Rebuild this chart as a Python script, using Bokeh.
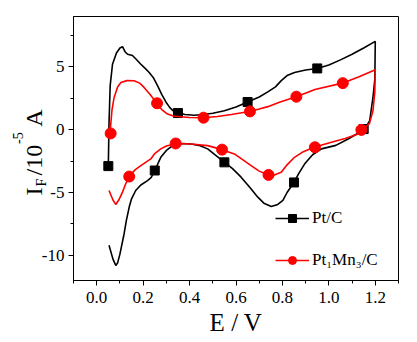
import math
from bokeh.plotting import figure
from bokeh.models import Label, Legend, LegendItem, FixedTicker, Range1d
from bokeh.embed import file_html
from bokeh.resources import INLINE

FONT = "Liberation Serif"

# ---- data ----
ptc_x = [0.05, 0.053, 0.058, 0.068, 0.085, 0.10, 0.111, 0.122, 0.133, 0.154, 0.17, 0.19,
         0.21, 0.226, 0.245, 0.262, 0.28, 0.298, 0.315, 0.33, 0.35, 0.38, 0.42, 0.46, 0.50,
         0.55, 0.60, 0.65, 0.70, 0.737, 0.77, 0.795, 0.82, 0.852, 0.90, 0.95, 1.0, 1.05,
         1.10, 1.15, 1.198,
         1.2, 1.198, 1.19, 1.176, 1.155, 1.12, 1.083, 1.03, 0.968, 0.93, 0.896, 0.87, 0.85,
         0.82, 0.802, 0.78, 0.752, 0.72, 0.694, 0.66, 0.622, 0.585, 0.55, 0.51, 0.478, 0.44,
         0.406, 0.37, 0.34, 0.327, 0.30, 0.276, 0.25, 0.235, 0.219, 0.19, 0.168, 0.15, 0.14,
         0.128, 0.118, 0.10, 0.09, 0.082, 0.07, 0.053]
ptc_y = [-2.9, 0.5, 3.5, 5.2, 6.1, 6.5, 6.6, 6.2, 6.0, 5.9, 5.6, 5.2,
         4.85, 4.55, 4.1, 3.5, 2.8, 2.2, 1.75, 1.5, 1.35, 1.2, 1.15, 1.2, 1.3,
         1.5, 1.8, 2.2, 2.6, 3.0, 3.4, 3.9, 4.3, 4.55, 4.75, 4.87, 5.15, 5.55,
         6.0, 6.5, 7.0,
         7.0, 4.0, 2.56, 0.71, 0.05, -0.35, -0.74, -1.25, -1.53, -2.0, -2.72, -3.5, -4.18,
         -5.0, -5.63, -5.95, -6.11, -5.85, -5.37, -4.6, -3.78, -3.1, -2.59, -2.0, -1.53, -1.25,
         -1.14, -1.1, -1.15, -1.27, -1.65, -2.2, -3.25, -3.8, -4.05, -4.4, -4.84, -5.5, -6.16,
         -7.2, -8.28, -9.9, -10.6, -10.8, -10.3, -9.2]

ptmn_x = [0.057, 0.06, 0.066, 0.075, 0.09, 0.104, 0.13, 0.161, 0.185, 0.204, 0.23, 0.259,
          0.28, 0.305, 0.33, 0.363, 0.40, 0.46, 0.52, 0.58, 0.658, 0.70, 0.737, 0.79, 0.86,
          0.94, 1.058, 1.13, 1.2,
          1.198, 1.19, 1.175, 1.15, 1.14, 1.126, 1.07, 1.011, 0.936, 0.89, 0.852, 0.82,
          0.795, 0.765, 0.74, 0.70, 0.665, 0.63, 0.593, 0.54, 0.478, 0.406, 0.341, 0.30,
          0.276, 0.25, 0.233, 0.19, 0.165, 0.14, 0.125, 0.111, 0.095, 0.082, 0.07, 0.053]
ptmn_y = [-0.3, 0.3, 1.6, 2.56, 3.4, 3.75, 3.9, 3.89, 3.7, 3.36, 2.8, 2.09,
          1.6, 1.24, 1.08, 1.03, 0.97, 0.95, 1.05, 1.2, 1.45, 1.65, 1.83, 2.2, 2.62,
          3.2, 3.7, 4.2, 4.76,
          3.0, 1.5, 0.5, 0.05, -0.02, -0.34, -0.7, -1.0, -1.4, -1.75, -2.2, -2.8,
          -3.39, -3.6, -3.6, -3.3, -2.86, -2.4, -1.93, -1.59, -1.27, -1.14, -1.1, -1.3,
          -1.53, -1.9, -2.33, -2.86, -3.2, -3.73, -4.3, -4.97, -5.6, -5.95, -5.6, -4.84]

ptc_mark_x = [0.05, 0.35, 0.65, 0.95, 1.15, 0.85, 0.55, 0.25]
ptc_mark_y = [-2.9, 1.32, 2.2, 4.87, 0.05, -4.2, -2.6, -3.25]
ptmn_mark_x = [0.06, 0.26, 0.46, 0.66, 0.86, 1.06, 1.14, 0.94, 0.74, 0.54, 0.34, 0.14]
ptmn_mark_y = [-0.3, 2.1, 0.95, 1.45, 2.62, 3.7, -0.02, -1.4, -3.6, -1.59, -1.1, -3.73]

series_names = ["Pt/C", "Pt\u2081Mn\u2083/C"]
series_colors = ["black", "red"]

x_ticks = [0.0, 0.2, 0.4, 0.6, 0.8, 1.0, 1.2]
x_tick_labels = ["0.0", "0.2", "0.4", "0.6", "0.8", "1.0", "1.2"]
y_ticks = [-10, -5, 0, 5]
y_tick_labels = ["-10", "-5", "0", "5"]
x_label = "E / V"
NB = "\u00a0"
y_label_main = "I" + NB * 2 + "/10" + NB * 3 + "A"
y_label_sub = "F"
y_label_sup = "-5"

# ---- figure ----
p = figure(width=417, height=342, x_range=Range1d(-0.1, 1.3), y_range=Range1d(-12, 9),
           output_backend="svg", toolbar_location=None,
           min_border_left=73, min_border_right=19, min_border_top=16, min_border_bottom=62)
p.background_fill_color = "white"
p.border_fill_color = "white"
p.outline_line_color = "black"
p.outline_line_width = 1
p.grid.visible = False

x_minor = [-0.1] + [t + 0.1 for t in x_ticks]
y_minor = [y_ticks[0] - 2.5] + [t + 2.5 for t in y_ticks]
p.xaxis.ticker = FixedTicker(ticks=x_ticks, minor_ticks=x_minor)
p.yaxis.ticker = FixedTicker(ticks=y_ticks, minor_ticks=y_minor)
p.xaxis.major_label_overrides = dict(zip(x_ticks, x_tick_labels))
p.yaxis.major_label_overrides = dict(zip(y_ticks, y_tick_labels))

for ax in (p.xaxis[0], p.yaxis[0]):
    ax.axis_line_color = "black"
    ax.axis_line_width = 1
    ax.major_tick_line_color = "black"
    ax.minor_tick_line_color = "black"
    ax.major_tick_out = 5
    ax.major_tick_in = 0
    ax.minor_tick_out = 3
    ax.minor_tick_in = 0
    ax.major_label_text_font = FONT
    ax.major_label_text_font_size = "17px"
    ax.major_label_text_color = "black"

p.xaxis.major_label_standoff = 6
p.yaxis.major_label_standoff = 4
p.xaxis.axis_label = x_label
p.xaxis.axis_label_text_font = FONT
p.xaxis.axis_label_text_font_size = "25px"
p.xaxis.axis_label_text_font_style = "normal"
p.xaxis.axis_label_text_color = "black"
p.xaxis.axis_label_standoff = 3

# ---- curves ----
r1 = p.line(ptc_x, ptc_y, line_color=series_colors[0], line_width=1.6)
m1 = p.scatter(ptc_mark_x, ptc_mark_y, marker="square", size=9,
               fill_color=series_colors[0], line_color=series_colors[0])
r2 = p.line(ptmn_x, ptmn_y, line_color=series_colors[1], line_width=1.6)
m2 = p.scatter(ptmn_mark_x, ptmn_mark_y, marker="circle", size=11,
               fill_color=series_colors[1], line_color=series_colors[1])

legend = Legend(items=[LegendItem(label=series_names[0], renderers=[r1, m1]),
                       LegendItem(label=series_names[1], renderers=[r2, m2])],
                location=(202, 10))
legend.label_text_font = FONT
legend.label_text_font_size = "17px"
legend.label_text_color = "black"
legend.glyph_width = 34
legend.glyph_height = 20
legend.spacing = 22
legend.padding = 0
legend.margin = 0
legend.label_standoff = 3
legend.border_line_alpha = 0
legend.background_fill_alpha = 0
p.add_layout(legend)

# ---- y axis label: main text + subscript + superscript (canvas coordinates,
#      placed in side panels so they are not clipped by the frame) ----
A = math.pi / 2
main_lbl = Label(x=33.5, y=195, x_units="canvas", y_units="canvas", angle=A,
                 text=y_label_main, text_font=FONT, text_font_size="24px",
                 text_color="black", text_align="left", text_baseline="alphabetic")
sub_lbl = Label(x=40.5, y=186, x_units="canvas", y_units="canvas", angle=A,
                text=y_label_sub, text_font=FONT, text_font_size="14px",
                text_color="black", text_align="left", text_baseline="alphabetic")
sup_lbl = Label(x=17.5, y=143.5, x_units="canvas", y_units="canvas", angle=A,
                text=y_label_sup, text_font=FONT, text_font_size="14px",
                text_color="black", text_align="left", text_baseline="alphabetic")
p.add_layout(main_lbl, "left")
p.add_layout(sub_lbl, "above")
p.add_layout(sup_lbl, "right")

open("out.html", "w").write(file_html(p, INLINE))
